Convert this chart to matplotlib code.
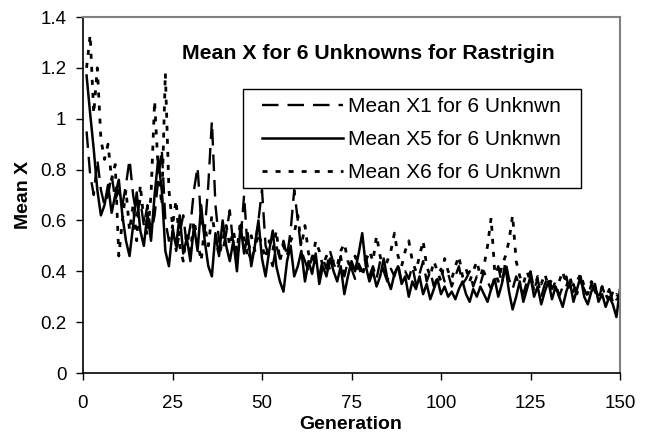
import matplotlib
matplotlib.use("Agg")
import matplotlib.pyplot as plt
from matplotlib.patches import Rectangle

plt.rcParams['font.family'] = ['Liberation Sans', 'DejaVu Sans']

# Generations 1..150
generations = list(range(1, 151))

# Mean X1 (dashed)
mean_x1 = [
    0.95, 0.78, 0.70, 0.84, 0.72, 0.66, 0.70, 0.78, 0.68, 0.72,
    0.66, 0.74, 0.84, 0.70, 0.62, 0.68, 0.58, 0.66, 0.55, 0.62,
    0.76, 0.88, 0.60, 0.52, 0.58, 0.48, 0.55, 0.62, 0.50, 0.58,
    0.72, 0.81, 0.60, 0.56, 0.74, 0.99, 0.66, 0.52, 0.48, 0.55,
    0.64, 0.50, 0.46, 0.52, 0.70, 0.48, 0.44, 0.50, 0.60, 0.72,
    0.50, 0.46, 0.42, 0.50, 0.45, 0.52, 0.46, 0.56, 0.72, 0.60,
    0.48, 0.44, 0.40, 0.46, 0.42, 0.38, 0.45, 0.41, 0.48, 0.43,
    0.40, 0.46, 0.38, 0.44, 0.41, 0.37, 0.43, 0.40, 0.46, 0.38,
    0.42, 0.37, 0.44, 0.40, 0.36, 0.41, 0.38, 0.43, 0.36, 0.40,
    0.37, 0.42, 0.35, 0.39, 0.44, 0.36, 0.40, 0.34, 0.38, 0.41,
    0.36, 0.39, 0.34, 0.38, 0.42, 0.35, 0.37, 0.40, 0.34, 0.38,
    0.35, 0.40, 0.36, 0.33, 0.38, 0.42, 0.35, 0.44, 0.37, 0.33,
    0.38, 0.34, 0.31, 0.36, 0.40, 0.33, 0.37, 0.30, 0.35, 0.38,
    0.33, 0.36, 0.30, 0.34, 0.38, 0.32, 0.35, 0.31, 0.36, 0.33,
    0.30, 0.35, 0.32, 0.29, 0.34, 0.30, 0.33, 0.28, 0.31, 0.29,
]

# Mean X5 (solid)
mean_x5 = [
    1.17, 1.02, 0.88, 0.72, 0.62, 0.66, 0.74, 0.63, 0.70, 0.76,
    0.62, 0.52, 0.46, 0.58, 0.71, 0.56, 0.50, 0.63, 0.52, 0.70,
    0.84, 0.72, 0.48, 0.42, 0.56, 0.50, 0.62, 0.47, 0.53, 0.44,
    0.58, 0.48, 0.66, 0.52, 0.42, 0.38, 0.55, 0.46, 0.60, 0.50,
    0.44, 0.52, 0.40, 0.58, 0.47, 0.55, 0.42, 0.50, 0.60, 0.45,
    0.38, 0.48, 0.56, 0.42, 0.36, 0.32, 0.44, 0.50, 0.38, 0.42,
    0.48, 0.36, 0.44, 0.39, 0.47, 0.35, 0.42, 0.38, 0.45, 0.40,
    0.36, 0.42, 0.31, 0.38, 0.44, 0.40, 0.47, 0.55, 0.42, 0.36,
    0.40, 0.34, 0.38, 0.45, 0.37, 0.33, 0.39, 0.42, 0.35, 0.38,
    0.30, 0.36, 0.33, 0.38, 0.31, 0.35, 0.29, 0.33, 0.37, 0.31,
    0.34, 0.30, 0.32, 0.29, 0.33, 0.36, 0.31, 0.28, 0.33, 0.30,
    0.34, 0.31, 0.28, 0.33, 0.37, 0.30, 0.35, 0.42, 0.32, 0.25,
    0.30, 0.36, 0.28, 0.33, 0.38, 0.30, 0.34, 0.27, 0.32, 0.36,
    0.29, 0.34, 0.30, 0.26, 0.32, 0.36, 0.28, 0.33, 0.38, 0.30,
    0.27, 0.32, 0.35, 0.28, 0.31, 0.26, 0.30, 0.27, 0.22, 0.33,
]

# Mean X6 (dotted)
mean_x6 = [
    1.20, 1.33, 1.02, 1.20, 0.92, 0.84, 0.90, 0.76, 0.82, 0.46,
    0.60, 0.72, 0.56, 0.66, 0.52, 0.74, 0.60, 0.54, 0.70, 1.07,
    0.80, 0.66, 1.18, 0.72, 0.58, 0.68, 0.50, 0.44, 0.56, 0.48,
    0.60, 0.52, 0.44, 0.58, 0.50, 0.62, 0.54, 0.46, 0.52, 0.58,
    0.50, 0.56, 0.48, 0.60, 0.52, 0.46, 0.54, 0.48, 0.55, 0.50,
    0.45, 0.52, 0.48, 0.56, 0.44, 0.50, 0.46, 0.52, 0.55, 0.62,
    0.50, 0.58, 0.47, 0.44, 0.52, 0.48, 0.42, 0.46, 0.40, 0.44,
    0.42, 0.48, 0.51, 0.44, 0.40, 0.46, 0.42, 0.38, 0.44, 0.48,
    0.44, 0.54, 0.46, 0.40, 0.44, 0.48, 0.55, 0.46, 0.42, 0.48,
    0.52, 0.44, 0.40, 0.46, 0.52, 0.42, 0.38, 0.44, 0.40, 0.36,
    0.45, 0.40, 0.37, 0.42, 0.46, 0.38, 0.41, 0.36, 0.40, 0.44,
    0.38, 0.42, 0.50, 0.61, 0.40, 0.36, 0.42, 0.46, 0.52, 0.62,
    0.44, 0.38, 0.35, 0.40, 0.36, 0.33, 0.38, 0.35, 0.39, 0.34,
    0.37, 0.33, 0.36, 0.40, 0.34, 0.38, 0.32, 0.36, 0.39, 0.34,
    0.31, 0.36, 0.33, 0.30, 0.34, 0.31, 0.28, 0.32, 0.29, 0.30,
]

x_ticks = [0, 25, 50, 75, 100, 125, 150]
y_ticks = [0, 0.2, 0.4, 0.6, 0.8, 1.0, 1.2, 1.4]
y_tick_labels = ['0', '0.2', '0.4', '0.6', '0.8', '1', '1.2', '1.4']

W, H = 652, 438
x0, x1, y0, y1 = 83, 620, 373, 17   # plot area in pixels


def ax_xy(px, py):
    # pixel position -> axes fraction
    return (px - x0) / (x1 - x0), (y0 - py) / (y0 - y1)


fig = plt.figure(figsize=(W / 100, H / 100), dpi=100)
ax = fig.add_axes([x0 / W, 1 - y0 / H, (x1 - x0) / W, (y0 - y1) / H])

ax.plot(generations, mean_x1, color='black', lw=1.7, linestyle=(0, (7, 3.8)),
        label='Mean X1 for 6 Unknwn')
ax.plot(generations, mean_x5, color='black', lw=1.8, linestyle='-',
        label='Mean X5 for 6 Unknwn')
ax.plot(generations, mean_x6, color='black', lw=2.0, linestyle=(0, (1.8, 2.9)),
        label='Mean X6 for 6 Unknwn')

ax.set_xlim(0, 150)
ax.set_ylim(0, 1.4)
ax.set_xticks(x_ticks)
ax.set_yticks(y_ticks)
ax.set_yticklabels(y_tick_labels)
ax.tick_params(direction='out', length=5, width=1, labelsize=13.5, color='black')
ax.tick_params(axis='x', pad=11)
ax.tick_params(axis='y', pad=7)

for side in ['left', 'bottom']:
    ax.spines[side].set_color('black')
    ax.spines[side].set_linewidth(1.2)
for side in ['top', 'right']:
    ax.spines[side].set_color('#808080')
    ax.spines[side].set_linewidth(1.5)

ax.set_xlabel('Generation', fontsize=14, fontweight='bold')
ax.set_ylabel('Mean X', fontsize=14, fontweight='bold')
ax.xaxis.set_label_coords(*ax_xy(351, 416))
ax.yaxis.set_label_coords(*ax_xy(32, 195))

tx, ty = ax_xy(368, 53)
ax.text(tx, ty, 'Mean X for 6 Unknowns for Rastrigin', transform=ax.transAxes,
        ha='center', va='center', fontsize=15.3, fontweight='bold')

# legend box drawn as its own frame
bx0, by0 = ax_xy(243, 188)
bx1, by1 = ax_xy(581, 89)
ax.add_patch(Rectangle((bx0, by0), bx1 - bx0, by1 - by0, transform=ax.transAxes,
                       facecolor='white', edgecolor='black', lw=1.0, zorder=4))

leg = ax.legend(loc='upper left', bbox_to_anchor=ax_xy(262, 97),
                borderaxespad=0, borderpad=0, fontsize=15, frameon=False,
                handlelength=3.9, handletextpad=0.25, labelspacing=0.68)
leg.set_zorder(5)

fig.savefig('out.png', dpi=100)
